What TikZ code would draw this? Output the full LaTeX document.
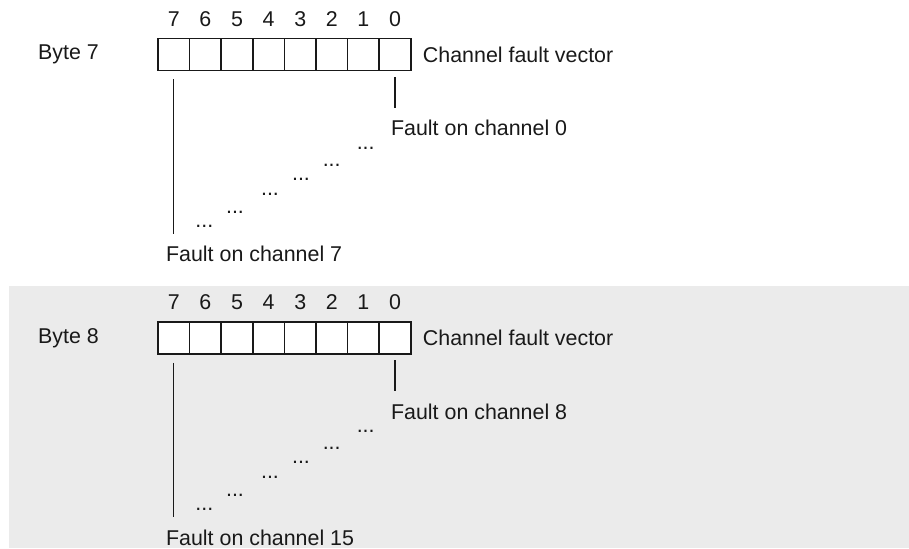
\documentclass[tikz,border=0pt]{standalone}
\usepackage{fontspec}
\setmainfont{Liberation Sans}
\usetikzlibrary{positioning}
\definecolor{cShade}{RGB}{235,235,235}
\definecolor{cInk}{RGB}{25,25,25}
\tikzset{
	bitcell/.style={draw=cInk, line width=0.75pt, fill=white,
		minimum width=15.8pt, minimum height=16pt, inner sep=0pt},
	txt/.style={inner sep=0pt, text=cInk, font=\fontsize{10.7}{13}\selectfont},
	flabel/.style={txt, inner ysep=6pt, anchor=north west},
	lead/.style={line width=0.55pt, draw=cInk},
}

\begin{document}
\begin{tikzpicture}[x=0.5pt, y=-0.5pt]
	\useasboundingbox (0,0) rectangle (909,548);
	\fill[cShade] (9,286) rectangle (909,548);
	\foreach \by/\lo/\hi/\dy in {7/0/7/0, 8/8/15/283.3}{
		\begin{scope}[shift={(0,\dy)}]
			\foreach \b in {0,...,7}{
				\node[bitcell] (cell\by-\b) at ({158+(7.5-\b)*31.6},54.7) {};
				\node[txt, above=5.5pt of cell\by-\b] (num\by-\b) {\b};
			}
			\node[txt, left=29pt of cell\by-7] (byte\by) {Byte \by};
			\node[txt, right=5.5pt of cell\by-0] (vec\by) {Channel fault vector};
			\node[flabel] (lo\by) at (390.7,108) {Fault on channel \lo};
			\node[flabel] (hi\by) at (165.7,234) {Fault on channel \hi};
			\draw[lead, shorten <=2.65pt] (cell\by-0.south) -- (cell\by-0.south |- lo\by.north);
			\draw[lead, shorten <=4pt] (cell\by-7.south) -- (cell\by-7.south |- hi\by.north);
			% dots between the two ends
			\foreach \px/\py [count=\k] in {365.7/148.3, 331.7/165, 301/179, 270/194.3, 235/212.3, 204.3/226}
				\node[txt] (dots\by-\k) at (\px,\py) {...};
		\end{scope}
	}
\end{tikzpicture}
\end{document}
